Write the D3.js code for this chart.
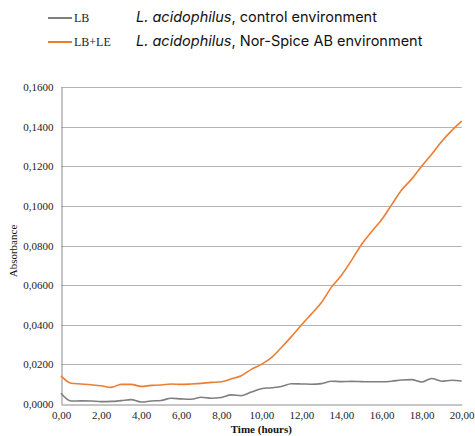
<!DOCTYPE html>
<html>
<head>
<meta charset="utf-8">
<script src="https://cdn.jsdelivr.net/npm/d3@7"></script>
<style>
  body { margin: 0; background: #fff; }
  svg { display: block; }
</style>
</head>
<body>
<div id="main"></div>
<script>
// time in hours, sampled every half hour
var hours = [0, 0.5, 1, 1.5, 2, 2.5, 3, 3.5, 4, 4.5, 5, 5.5, 6, 6.5, 7, 7.5, 8, 8.5, 9, 9.5,
	10, 10.5, 11, 11.5, 12, 12.5, 13, 13.5, 14, 14.5, 15, 15.5, 16, 16.5, 17, 17.5, 18, 18.5, 19, 19.5, 20];

var lb = [0.0054, 0.0015, 0.0016, 0.0015, 0.0012, 0.0013, 0.0017, 0.0022, 0.0010, 0.0015,
	0.0018, 0.0029, 0.0026, 0.0024, 0.0034, 0.0029, 0.0033, 0.0046, 0.0042, 0.0060,
	0.0077, 0.0082, 0.0088, 0.0102, 0.0101, 0.0100, 0.0103, 0.0115, 0.0113, 0.0114,
	0.0113, 0.0112, 0.0112, 0.0115, 0.0121, 0.0123, 0.0111, 0.0129, 0.0115, 0.0120, 0.0116];

var lble = [0.0142, 0.0105, 0.0101, 0.0097, 0.0092, 0.0084, 0.0099, 0.0099, 0.0089, 0.0094,
	0.0096, 0.0101, 0.0099, 0.0101, 0.0104, 0.0109, 0.0112, 0.0127, 0.0143, 0.0175,
	0.0200, 0.0234, 0.0285, 0.0340, 0.0399, 0.0455, 0.0512, 0.0590, 0.0650, 0.0725,
	0.0805, 0.0870, 0.0930, 0.1005, 0.1080, 0.1135, 0.1200, 0.1260, 0.1325, 0.1380, 0.1428];

var xTicks = [0, 2, 4, 6, 8, 10, 12, 14, 16, 18, 20];
var yTicks = [0, 0.02, 0.04, 0.06, 0.08, 0.1, 0.12, 0.14, 0.16];

var legend = [
	{ key: "LB", label: "control environment", color: "#7f7f7f", values: lb },
	{ key: "LB+LE", label: "Nor-Spice AB environment", color: "#ed7d31", values: lble }
];

var w = 475, h = 436;
var margin = { top: 87, left: 61, right: 13, bottom: 32 };

var svg = d3.select("#main")
	.append("svg")
	.attr("width", w)
	.attr("height", h);

var x = d3.scaleLinear()
	.domain([0, 20])
	.range([margin.left, w - margin.right - 0.3]);

var y = d3.scaleLinear()
	.domain([0, 0.16])
	.range([h - margin.bottom, margin.top]);

var comma = function(v, n) { return v.toFixed(n).replace(".", ","); };

// gridlines
svg.append("g")
	.selectAll("line")
	.data(yTicks.slice(1))
	.enter()
	.append("line")
	.attr("x1", x(0))
	.attr("x2", x(20))
	.attr("y1", function(d) { return Math.round(y(d)) + 0.5; })
	.attr("y2", function(d) { return Math.round(y(d)) + 0.5; })
	.attr("stroke", "#b3b3b3")
	.attr("stroke-width", 1);

// axes
var yAxis = d3.axisLeft(y)
	.tickValues(yTicks)
	.tickSize(0)
	.tickPadding(8)
	.tickFormat(function(d) { return comma(d, 4); });

var xAxis = d3.axisBottom(x)
	.tickValues(xTicks)
	.tickSize(0)
	.tickPadding(7)
	.tickFormat(function(d) { return comma(d, 2); });

var gy = svg.append("g")
	.attr("transform", "translate(" + (x(0) + 0.5) + ",0)")
	.call(yAxis);
var gx = svg.append("g")
	.attr("transform", "translate(0," + (Math.round(y(0)) + 0.5) + ")")
	.call(xAxis);

[gx, gy].forEach(function(g) {
	g.select(".domain").attr("stroke", "#8c8c8c");
	g.selectAll("text")
		.attr("fill", "#222")
		.style("font-family", "'Liberation Serif', 'Times New Roman', serif")
		.style("font-size", "11px");
});

// axis titles
svg.append("text")
	.attr("x", (x(0) + x(20)) / 2)
	.attr("y", 433)
	.attr("text-anchor", "middle")
	.style("font-family", "'Liberation Serif', 'Times New Roman', serif")
	.style("font-size", "11px")
	.style("font-weight", "bold")
	.attr("fill", "#111")
	.text("Time (hours)");

svg.append("text")
	.attr("transform", "translate(17," + 251 + ") rotate(-90)")
	.attr("text-anchor", "middle")
	.style("font-family", "'Liberation Serif', 'Times New Roman', serif")
	.style("font-size", "11px")
	.attr("fill", "#111")
	.text("Absorbance");

// lines
var line = d3.line()
	.x(function(d, i) { return x(hours[i]); })
	.y(function(d) { return y(d); })
	.curve(d3.curveMonotoneX);

svg.selectAll(".series")
	.data(legend)
	.enter()
	.append("path")
	.attr("class", "series")
	.attr("d", function(d) { return line(d.values); })
	.attr("fill", "none")
	.attr("stroke", function(d) { return d.color; })
	.attr("stroke-width", 1.6);

// legend
var lg = svg.selectAll(".legend")
	.data(legend)
	.enter()
	.append("g")
	.attr("class", "legend")
	.attr("transform", function(d, i) { return "translate(0," + (18 + i * 24) + ")"; });

lg.append("line")
	.attr("x1", 48)
	.attr("x2", 72)
	.attr("stroke", function(d) { return d.color; })
	.attr("stroke-width", 2);

lg.append("text")
	.attr("x", 74)
	.attr("y", 4)
	.style("font-family", "'Liberation Serif', 'Times New Roman', serif")
	.style("font-size", "12px")
	.attr("fill", "#222")
	.text(function(d) { return d.key; });

var desc = lg.append("text")
	.attr("x", 136)
	.attr("y", 4)
	.style("font-family", "Inter, Roboto, sans-serif")
	.style("font-size", "14.5px")
	.attr("fill", "#111");
desc.append("tspan")
	.style("font-style", "italic")
	.text("L. acidophilus");
desc.append("tspan")
	.text(function(d) { return ", " + d.label; });
</script>
</body>
</html>
